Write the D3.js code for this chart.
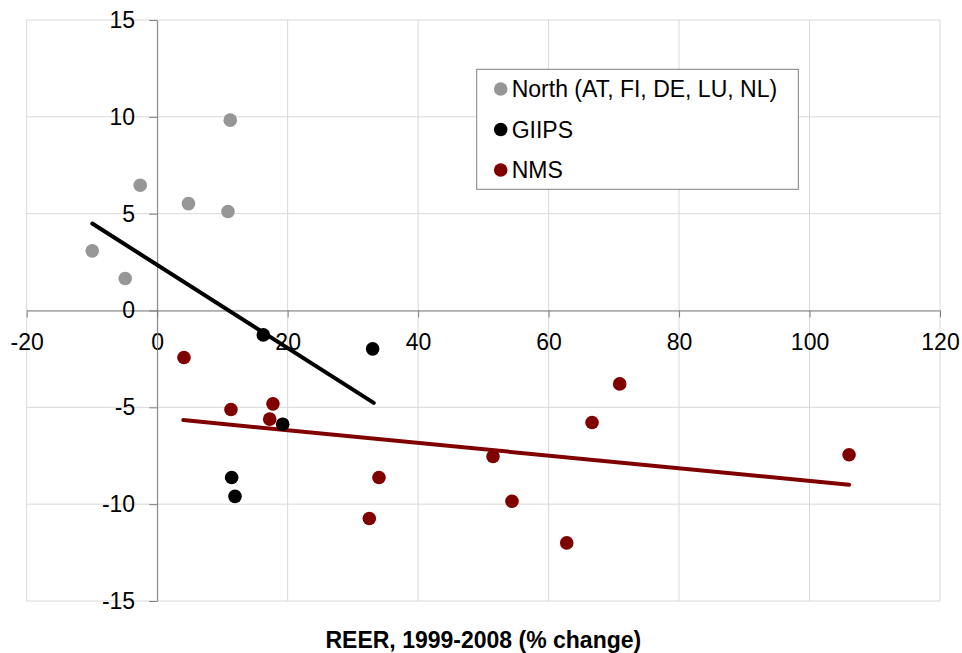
<!DOCTYPE html>
<html>
<head>
<meta charset="utf-8">
<script src="https://cdn.jsdelivr.net/npm/d3@7"></script>
<style>
  html, body { margin: 0; padding: 0; background: #fff; }
  svg { display: block; font-family: Arial, "Liberation Sans", sans-serif; }
</style>
</head>
<body>
<svg id="chart" width="962" height="653"></svg>
<script>
// REER change 1999-2008 (%) vs. second series, by country group
const northX = [11.2, -2.6, 4.8, 10.85, -9.95, -4.9];
const northY = [9.83, 6.47, 5.52, 5.11, 3.08, 1.65];

const giipsX = [16.27, 33.03, 19.24, 11.42, 11.93];
const giipsY = [-1.26, -1.98, -5.87, -8.62, -9.6];

const nmsX = [4.11, 11.31, 17.75, 17.25, 34.0, 32.52, 51.48, 54.39, 62.78, 66.66, 70.9, 106.06];
const nmsY = [-2.43, -5.11, -4.82, -5.61, -8.62, -10.74, -7.54, -9.85, -12.0, -5.78, -3.79, -7.45];

// fitted trend lines (endpoints)
const trendBlackX = [-9.95, 33.2];
const trendBlackY = [4.49, -4.77];
const trendRedX = [4.0, 106.06];
const trendRedY = [-5.66, -9.0];

const xTicks = [-20, 0, 20, 40, 60, 80, 100, 120];
const yTicks = [-15, -10, -5, 0, 5, 10, 15];

const seriesNames = ["North (AT, FI, DE, LU, NL)", "GIIPS", "NMS"];
const seriesColors = ["#969696", "#000000", "#800000"];
const xTitle = "REER, 1999-2008 (% change)";

const FONT = 'Arial, "Liberation Sans", sans-serif';
const svg = d3.select("#chart");
const x = d3.scaleLinear().domain([-20, 120]).range([26.7, 940]);
const y = d3.scaleLinear().domain([-15, 15]).range([601, 20]);

// gridlines
const grid = svg.append("g").attr("stroke", "#d9d9d9").attr("stroke-width", 1);
grid.selectAll("line.v").data(xTicks).join("line")
  .attr("x1", d => x(d)).attr("x2", d => x(d))
  .attr("y1", y(15)).attr("y2", y(-15));
grid.selectAll("line.h").data(yTicks).join("line")
  .attr("y1", d => y(d)).attr("y2", d => y(d))
  .attr("x1", x(-20)).attr("x2", x(120));

// axes crossing at zero
const xAxis = d3.axisBottom(x).tickValues(xTicks).tickSize(7).tickSizeOuter(0).tickFormat(d => String(d));
const yAxis = d3.axisLeft(y).tickValues(yTicks).tickSize(8).tickSizeOuter(0).tickFormat(d => String(d)).tickPadding(14);

const gx = svg.append("g").attr("transform", `translate(0,${y(0)})`).call(xAxis);
const gy = svg.append("g").attr("transform", `translate(${x(0)},0)`).call(yAxis);

[gx, gy].forEach(g => {
  g.select(".domain").attr("stroke", "#808080");
  g.selectAll(".tick line").attr("stroke", "#808080");
  g.selectAll(".tick text").attr("fill", "#000").attr("font-size", 23)
    .attr("font-family", FONT);
});
gx.selectAll(".tick text").attr("y", 22.7).attr("dy", "0.71em");

// trend lines
const line = d3.line().x(d => x(d[0])).y(d => y(d[1]));
svg.append("path")
  .attr("d", line(d3.zip(trendBlackX, trendBlackY)))
  .attr("stroke", "#000").attr("stroke-width", 4).attr("fill", "none").attr("stroke-linecap", "round");
svg.append("path")
  .attr("d", line(d3.zip(trendRedX, trendRedY)))
  .attr("stroke", "#800000").attr("stroke-width", 4).attr("fill", "none").attr("stroke-linecap", "round");

// scatter points
const groups = [
  { xs: northX, ys: northY, color: seriesColors[0] },
  { xs: giipsX, ys: giipsY, color: seriesColors[1] },
  { xs: nmsX, ys: nmsY, color: seriesColors[2] }
];
groups.forEach(g => {
  svg.append("g").selectAll("circle").data(d3.zip(g.xs, g.ys)).join("circle")
    .attr("cx", d => x(d[0])).attr("cy", d => y(d[1])).attr("r", 6.8)
    .attr("fill", g.color);
});

// legend
const legend = svg.append("g").attr("transform", "translate(476.7,69.3)");
legend.append("rect").attr("width", 321.6).attr("height", 120)
  .attr("fill", "#fff").attr("stroke", "#808080").attr("stroke-width", 1);
const items = legend.selectAll("g.item").data(seriesNames).join("g")
  .attr("transform", (d, i) => `translate(0,${19.7 + i * 40.5})`);
items.append("circle").attr("cx", 24).attr("cy", 0).attr("r", 6.8)
  .attr("fill", (d, i) => seriesColors[i]);
items.append("text").attr("x", 35).attr("y", 0).attr("dy", "0.35em")
  .attr("font-size", 23).attr("fill", "#000").text(d => d);

// x-axis title
svg.append("text").attr("x", (x(-20) + x(120)) / 2).attr("y", 648)
  .attr("text-anchor", "middle").attr("font-size", 23).attr("font-weight", "bold")
  .attr("fill", "#000").text(xTitle);
</script>
</body>
</html>
